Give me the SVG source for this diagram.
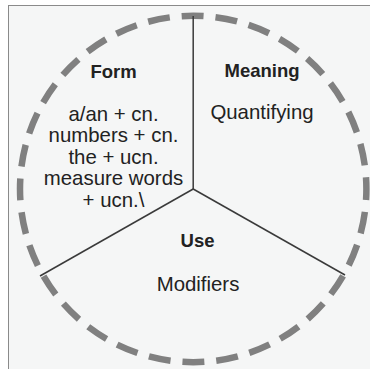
<svg xmlns="http://www.w3.org/2000/svg" width="370" height="369" viewBox="0 0 370 369">
  <style>
    .frame { fill: #f5f6f6; stroke: #8a8a8a; stroke-width: 1; }
    .ring { fill: none; stroke: #808080; stroke-width: 6.5; stroke-dasharray: 22 11.97; stroke-dashoffset: 11; }
    .div { stroke: #3a3a3a; stroke-width: 1.5; fill: none; }
    .h { font-family: "Liberation Sans", Arial, sans-serif; font-weight: bold; font-size: 18.5px; fill: #222; text-anchor: middle; }
    .t { font-family: "Liberation Sans", Arial, sans-serif; font-size: 20.4px; fill: #222; text-anchor: middle; }
  </style>
  <rect x="0" y="0" width="370" height="369" fill="#ffffff"/>
  <rect class="frame" x="8.5" y="5.5" width="372" height="372"/>
  <circle class="ring" cx="193.2" cy="189" r="173.2"/>
  <g id="connectors">
    <line class="div" x1="193.2" y1="189" x2="193.2" y2="16"/>
    <line class="div" x1="193.2" y1="189" x2="40" y2="276"/>
    <line class="div" x1="193.2" y1="189" x2="345" y2="275"/>
  </g>
  <g id="form">
    <text class="h" x="113.5" y="77.5">Form</text>
    <text class="t" x="113.5" y="120.5">a/an + cn.</text>
    <text class="t" x="113.5" y="142.2">numbers + cn.</text>
    <text class="t" x="113.5" y="163.8">the + ucn.</text>
    <text class="t" x="113.5" y="185.3">measure words</text>
    <text class="t" x="113.5" y="207">+ ucn.\</text>
  </g>
  <g id="meaning">
    <text class="h" x="262" y="77">Meaning</text>
    <text class="t" x="262" y="118.8">Quantifying</text>
  </g>
  <g id="use">
    <text class="h" x="197.5" y="246.8">Use</text>
    <text class="t" x="198" y="291">Modifiers</text>
  </g>
</svg>
